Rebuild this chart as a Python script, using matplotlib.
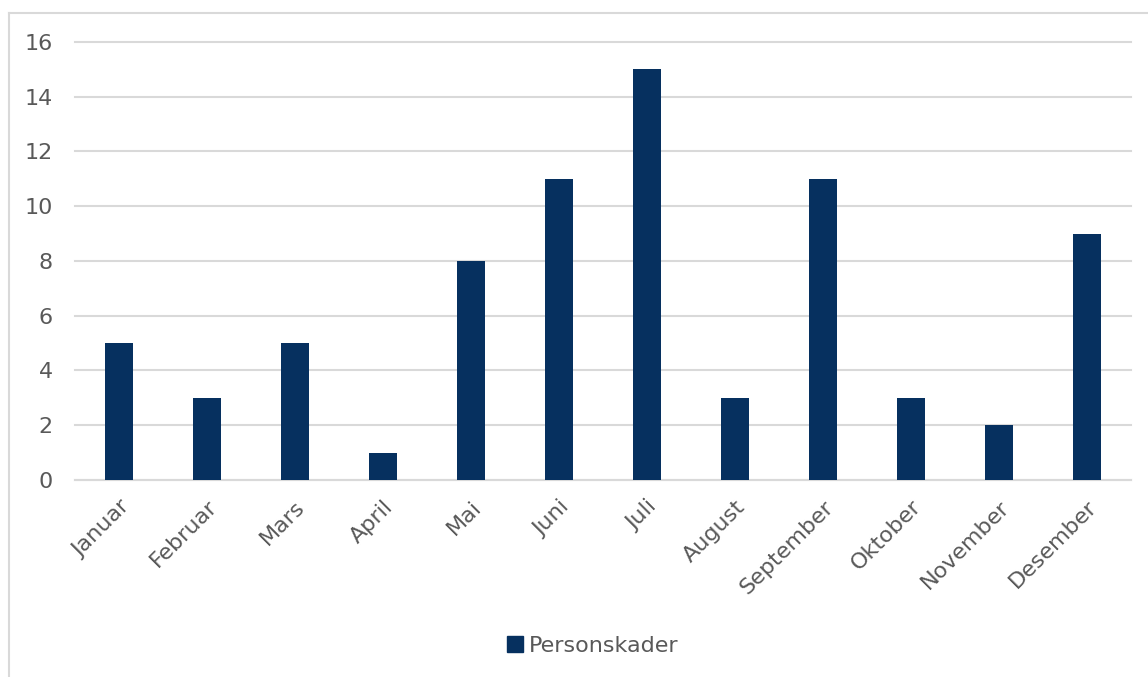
"""
Personskader per måned - søylediagram
"""
import matplotlib.pyplot as plt
from matplotlib.lines import Line2D

months = ["Januar", "Februar", "Mars", "April", "Mai", "Juni",
          "Juli", "August", "September", "Oktober", "November", "Desember"]
personskader = [5, 3, 5, 1, 8, 11, 15, 3, 11, 3, 2, 9]
y_ticks = [0, 2, 4, 6, 8, 10, 12, 14, 16]

bar_color = "#06305F"
text_color = "#595959"
grid_color = "#D9D9D9"

plt.rcParams["font.family"] = ["DejaVu Sans"]

fig = plt.figure(figsize=(11.48, 6.77), dpi=100)
ax = fig.add_axes([0.0653, 0.291, 0.9197, 0.647])

x = range(len(months))
ax.bar(x, personskader, width=0.32, color=bar_color, zorder=3)

ax.set_xlim(-0.5, len(months) - 0.5)
ax.set_ylim(0, 16)
ax.set_yticks(y_ticks)
ax.set_xticks(list(x))
ax.set_xticklabels(months, rotation=45, ha="right", rotation_mode="anchor",
                   fontsize=16, color=text_color)
ax.tick_params(axis="y", labelsize=16, labelcolor=text_color, length=0, pad=16)
ax.tick_params(axis="x", length=0, pad=12)

ax.grid(axis="y", color=grid_color, linewidth=1.5, zorder=0)
for line in ax.yaxis.get_gridlines():
    line.set_clip_on(False)
for side in ["top", "right", "left"]:
    ax.spines[side].set_visible(False)
ax.spines["bottom"].set_color(grid_color)
ax.spines["bottom"].set_linewidth(1.5)

handle = Line2D([], [], marker="s", linestyle="none", color=bar_color, markersize=11)
fig.legend([handle], ["Personskader"], loc="center", bbox_to_anchor=(0.515, 0.046),
           frameon=False, fontsize=16, labelcolor=text_color,
           handletextpad=0.1, handlelength=1.0)

# chart frame (top and left edges visible)
fig.add_artist(Line2D([0.008, 1.0], [0.981, 0.981], color=grid_color, linewidth=1.5))
fig.add_artist(Line2D([0.008, 0.008], [0.0, 0.981], color=grid_color, linewidth=1.5))

plt.savefig("out.png")
